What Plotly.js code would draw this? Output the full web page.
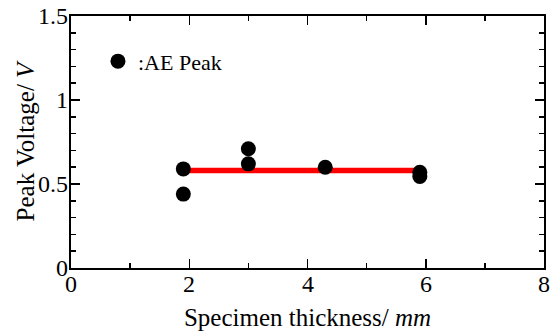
<!DOCTYPE html>
<html>
<head>
<meta charset="utf-8">
<script src="https://cdn.plot.ly/plotly-3.0.1.min.js"></script>
<style>html,body{margin:0;padding:0;background:#fff;}#chart{width:553px;height:331px;}</style>
</head>
<body>
<div id="chart"></div>
<script>
// Data
const thickness = [1.9, 1.9, 3.0, 3.0, 4.3, 5.9, 5.9];
const peakVoltage = [0.59, 0.44, 0.71, 0.62, 0.60, 0.57, 0.545];
const fitX = [1.9, 5.9];
const fitY = [0.58, 0.58];
const xTickVals = [0, 2, 4, 6, 8];
const xTickText = ['0', '2', '4', '6', '8'];
const yTickVals = [0, 0.5, 1, 1.5];
const yTickText = ['0', '0.5', '1', '1.5'];

const font = "'Liberation Serif', 'Times New Roman', serif";
const tickFont = {family: font, size: 24, color: '#000'};

const traces = [
  {
    x: fitX, y: fitY, mode: 'lines', showlegend: false,
    line: {color: '#ff0000', width: 5.5}, hoverinfo: 'skip'
  },
  {
    x: thickness, y: peakVoltage, mode: 'markers', name: ':AE Peak',
    marker: {color: '#000000', size: 15, symbol: 'circle'}
  }
];

const axisCommon = {
  showline: true, linecolor: '#000', linewidth: 2, mirror: 'ticks',
  ticks: 'inside', ticklen: 9, tickwidth: 1.5, tickcolor: '#000',
  showgrid: false, zeroline: false, showticklabels: false
};

// Tick labels placed through the axes' own scales (closer to the axes than Plotly's default)
const annotations = [];
xTickVals.forEach((v, i) => annotations.push({
  x: v, xref: 'x', y: 0, yref: 'paper', yanchor: 'top', xanchor: 'center',
  yshift: -1, text: xTickText[i], showarrow: false, font: tickFont
}));
yTickVals.forEach((v, i) => annotations.push({
  x: 0, xref: 'paper', y: v, yref: 'y', xanchor: 'right', yanchor: 'middle',
  xshift: -1, text: yTickText[i], showarrow: false, font: tickFont
}));

const layout = {
  width: 553, height: 331,
  margin: {l: 71, r: 9, t: 16, b: 63},
  paper_bgcolor: '#fff', plot_bgcolor: '#fff',
  font: {family: font, color: '#000'},
  xaxis: Object.assign({}, axisCommon, {
    range: [0, 8], tickmode: 'array', tickvals: xTickVals,
    minor: {dtick: 1, ticks: 'inside', ticklen: 5, tickwidth: 1.5, tickcolor: '#000', showgrid: false},
    title: {text: 'Specimen thickness/ <i>mm</i>', font: {family: font, size: 25, color: '#000'}, standoff: 39}
  }),
  yaxis: Object.assign({}, axisCommon, {
    range: [0, 1.5], tickmode: 'array', tickvals: yTickVals,
    minor: {dtick: 0.1, ticks: 'inside', ticklen: 5, tickwidth: 1.5, tickcolor: '#000', showgrid: false},
    title: {text: 'Peak Voltage/ <i>V</i>', font: {family: font, size: 25, color: '#000'}, standoff: 27}
  }),
  annotations: annotations,
  showlegend: true,
  legend: {
    x: 0.057, y: 0.82, xanchor: 'left', yanchor: 'middle',
    bgcolor: 'rgba(0,0,0,0)', borderwidth: 0,
    font: {family: font, size: 22, color: '#000'},
    itemwidth: 30
  }
};

Plotly.newPlot('chart', traces, layout, {displayModeBar: false, staticPlot: true});
</script>
</body>
</html>
